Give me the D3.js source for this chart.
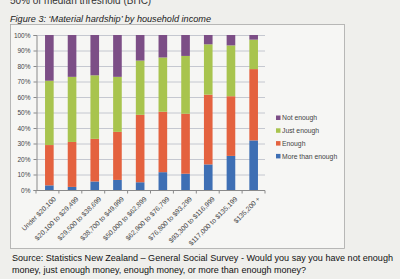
<!DOCTYPE html>
<html><head><meta charset="utf-8">
<script src="https://cdn.jsdelivr.net/npm/d3@7"></script>
<style>html,body{margin:0;padding:0;background:#efefec;}svg{display:block;}</style>
</head><body>
<svg id="c" width="400" height="279"></svg>
<script>
const categories = ["Under $20,100","$20,100 to $29,499","$29,500 to $38,699","$38,700 to $49,999","$50,000 to $62,899","$62,900 to $76,799","$76,800 to $93,299","$93,300 to $116,999","$117,000 to $135,199","$135,200 +"];
const moreThanEnough = [3, 2, 5.5, 6.5, 5, 11.5, 10.5, 16.5, 22, 32];
const enough = [26, 29, 27.5, 31, 43.5, 39, 38.7, 45, 38.5, 46];
const justEnough = [41.5, 42, 41, 35.5, 35, 35, 37.3, 32.5, 32.8, 19];
const notEnough = [29.5, 27, 26, 27, 16.5, 14.5, 13.5, 6, 6.7, 3];
const seriesNames = ["More than enough","Enough","Just enough","Not enough"];
const yTicks = [0,10,20,30,40,50,60,70,80,90,100];

const colors = {"More than enough":"#3e6fb4","Enough":"#e4623f","Just enough":"#a8c44e","Not enough":"#7c4e86"};
const svg = d3.select("#c");
const font = "Arial, 'Liberation Sans', sans-serif";

// top text, partially visible at the top edge in the reference
svg.append("text").attr("x",10).attr("y",4).attr("font-family",font).attr("font-size",10).attr("fill","#333").text("50% of median threshold (BHC)");
// title
svg.append("text").attr("x",10).attr("y",22).attr("font-family",font).attr("font-size",9.8).attr("font-style","italic").attr("fill","#222")
  .attr("textLength",201).attr("lengthAdjust","spacingAndGlyphs")
  .text("Figure 3: \u2018Material hardship\u2019 by household income");
// frame
svg.append("rect").attr("x",10.5).attr("y",24.5).attr("width",334).attr("height",224).attr("fill","#f6f6f4").attr("stroke","#a8a8a8").attr("stroke-width",0.8);

const rows = categories.map((c,i)=>({cat:c,"More than enough":moreThanEnough[i],"Enough":enough[i],"Just enough":justEnough[i],"Not enough":notEnough[i]}));
const stack = d3.stack().keys(seriesNames)(rows);

const x = d3.scaleBand().domain(categories).range([38,265]).paddingInner(0.62).paddingOuter(0.31);
const y = d3.scaleLinear().domain([0,100]).range([190,35]);

// gridlines
svg.append("g").selectAll("line").data(yTicks.filter(d=>d>0)).join("line")
  .attr("x1",36).attr("x2",265).attr("y1",d=>y(d)+0.5).attr("y2",d=>y(d)+0.5)
  .attr("stroke","#b9bcc6").attr("stroke-width",0.8);

// bars
svg.append("g").selectAll("g").data(stack).join("g").attr("fill",d=>colors[d.key])
  .selectAll("rect").data(d=>d).join("rect")
  .attr("x",d=>x(d.data.cat)).attr("width",x.bandwidth())
  .attr("y",d=>y(d[1])).attr("height",d=>y(d[0])-y(d[1]));

// y axis
const ya = svg.append("g").attr("transform","translate(36.5,0)")
  .call(d3.axisLeft(y).tickValues(yTicks).tickFormat(d=>d+"%").tickSize(3).tickPadding(3));
ya.selectAll("text").attr("font-family",font).attr("font-size",6.5).attr("fill","#444");
ya.selectAll("line,path").attr("stroke","#8a8a8a");

// x axis
const xa = svg.append("g").attr("transform","translate(0,190.5)");
xa.append("line").attr("x1",36).attr("x2",265).attr("stroke","#8a8a8a");
xa.selectAll("line.t").data(d3.range(categories.length+1)).join("line").attr("class","t")
  .attr("x1",d=>36+d*(229/categories.length)).attr("x2",d=>36+d*(229/categories.length))
  .attr("y1",0).attr("y2",3).attr("stroke","#8a8a8a");
xa.selectAll("text").data(categories).join("text")
  .attr("transform",d=>`translate(${x(d)+x.bandwidth()/2+7},${9}) rotate(-45)`)
  .attr("text-anchor","end").attr("font-family",font).attr("font-size",6.8).attr("fill","#444")
  .text(d=>d);

// legend
const leg = svg.append("g").attr("transform","translate(276,118)");
const legOrder = ["Not enough","Just enough","Enough","More than enough"];
legOrder.forEach((k,i)=>{
  const g = leg.append("g").attr("transform",`translate(0,${i*12.8})`);
  g.append("rect").attr("x",0).attr("y",-2.5).attr("width",4.5).attr("height",4.5).attr("fill",colors[k]);
  g.append("text").attr("x",6).attr("y",2.2).attr("font-family",font).attr("font-size",6.8).attr("fill","#444").text(k);
});

// source
svg.append("text").attr("x",12).attr("y",261).attr("font-family",font).attr("font-size",9.1).attr("fill","#111")
  .attr("textLength",381).attr("lengthAdjust","spacingAndGlyphs")
  .text("Source: Statistics New Zealand \u2013 General Social Survey - Would you say you have not enough");
svg.append("text").attr("x",12).attr("y",273).attr("font-family",font).attr("font-size",9.1).attr("fill","#111")
  .attr("textLength",294).attr("lengthAdjust","spacingAndGlyphs")
  .text("money, just enough money, enough money, or more than enough money?");
</script>
</body></html>
